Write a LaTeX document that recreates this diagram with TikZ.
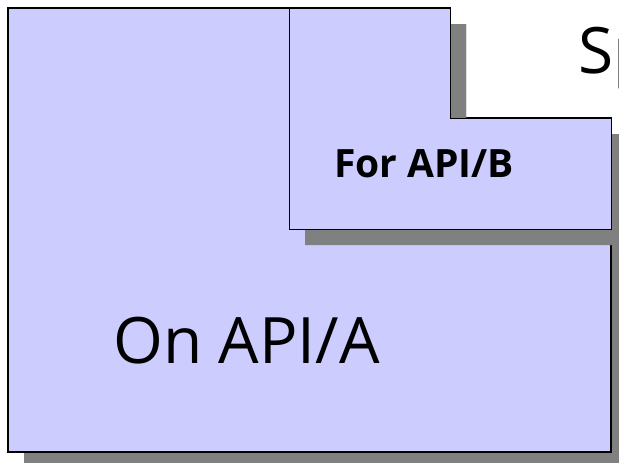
\documentclass[tikz,border=0pt]{standalone}
\usepackage{fontspec}
\setmainfont{Open Sans}
\newfontfamily\boldlabel{Open Sans}[UprightFont={* Bold}]
\definecolor{lav}{HTML}{CCCCFF}
\definecolor{shade}{HTML}{808080}
\begin{document}
\begin{tikzpicture}[x=1pt,y=-1pt,
  shadowshape/.style={fill=shade,draw=none},
  bigshape/.style={fill=lav,draw=black,line width=1.6pt,line join=miter},
  smallshape/.style={fill=lav,draw=black,line width=1pt,line join=miter},
  lbl/.style={anchor=base west,inner sep=0pt,text=black}]
\useasboundingbox (0,0) rectangle (619,463);
% big L-shape with shadow
\fill[shadowshape,shift={(16,16)}] (8,8) -- (450,8) -- (450,118) -- (611,118) -- (611,452) -- (8,452) -- cycle;
\path[bigshape] (8,8) -- (450,8) -- (450,118) -- (611,118) -- (611,452) -- (8,452) -- cycle;
% small L-shape with shadow
\fill[shadowshape,shift={(16,16)}] (289,8) -- (450,8) -- (450,118) -- (611,118) -- (611,229) -- (289,229) -- cycle;
\path[smallshape] (289,8) -- (450,8) -- (450,118) -- (611,118) -- (611,229) -- (289,229) -- cycle;
% texts
\node[lbl,font=\fontsize{64}{64}\selectfont] (onA) at (113,363) {On API/A};
\node[lbl,font=\boldlabel\fontsize{39}{39}\selectfont] (forB) at (334,177) {For API/B};
\node[lbl,font=\fontsize{64}{64}\selectfont] (sp) at (578,73) {Sp};
\end{tikzpicture}
\end{document}
